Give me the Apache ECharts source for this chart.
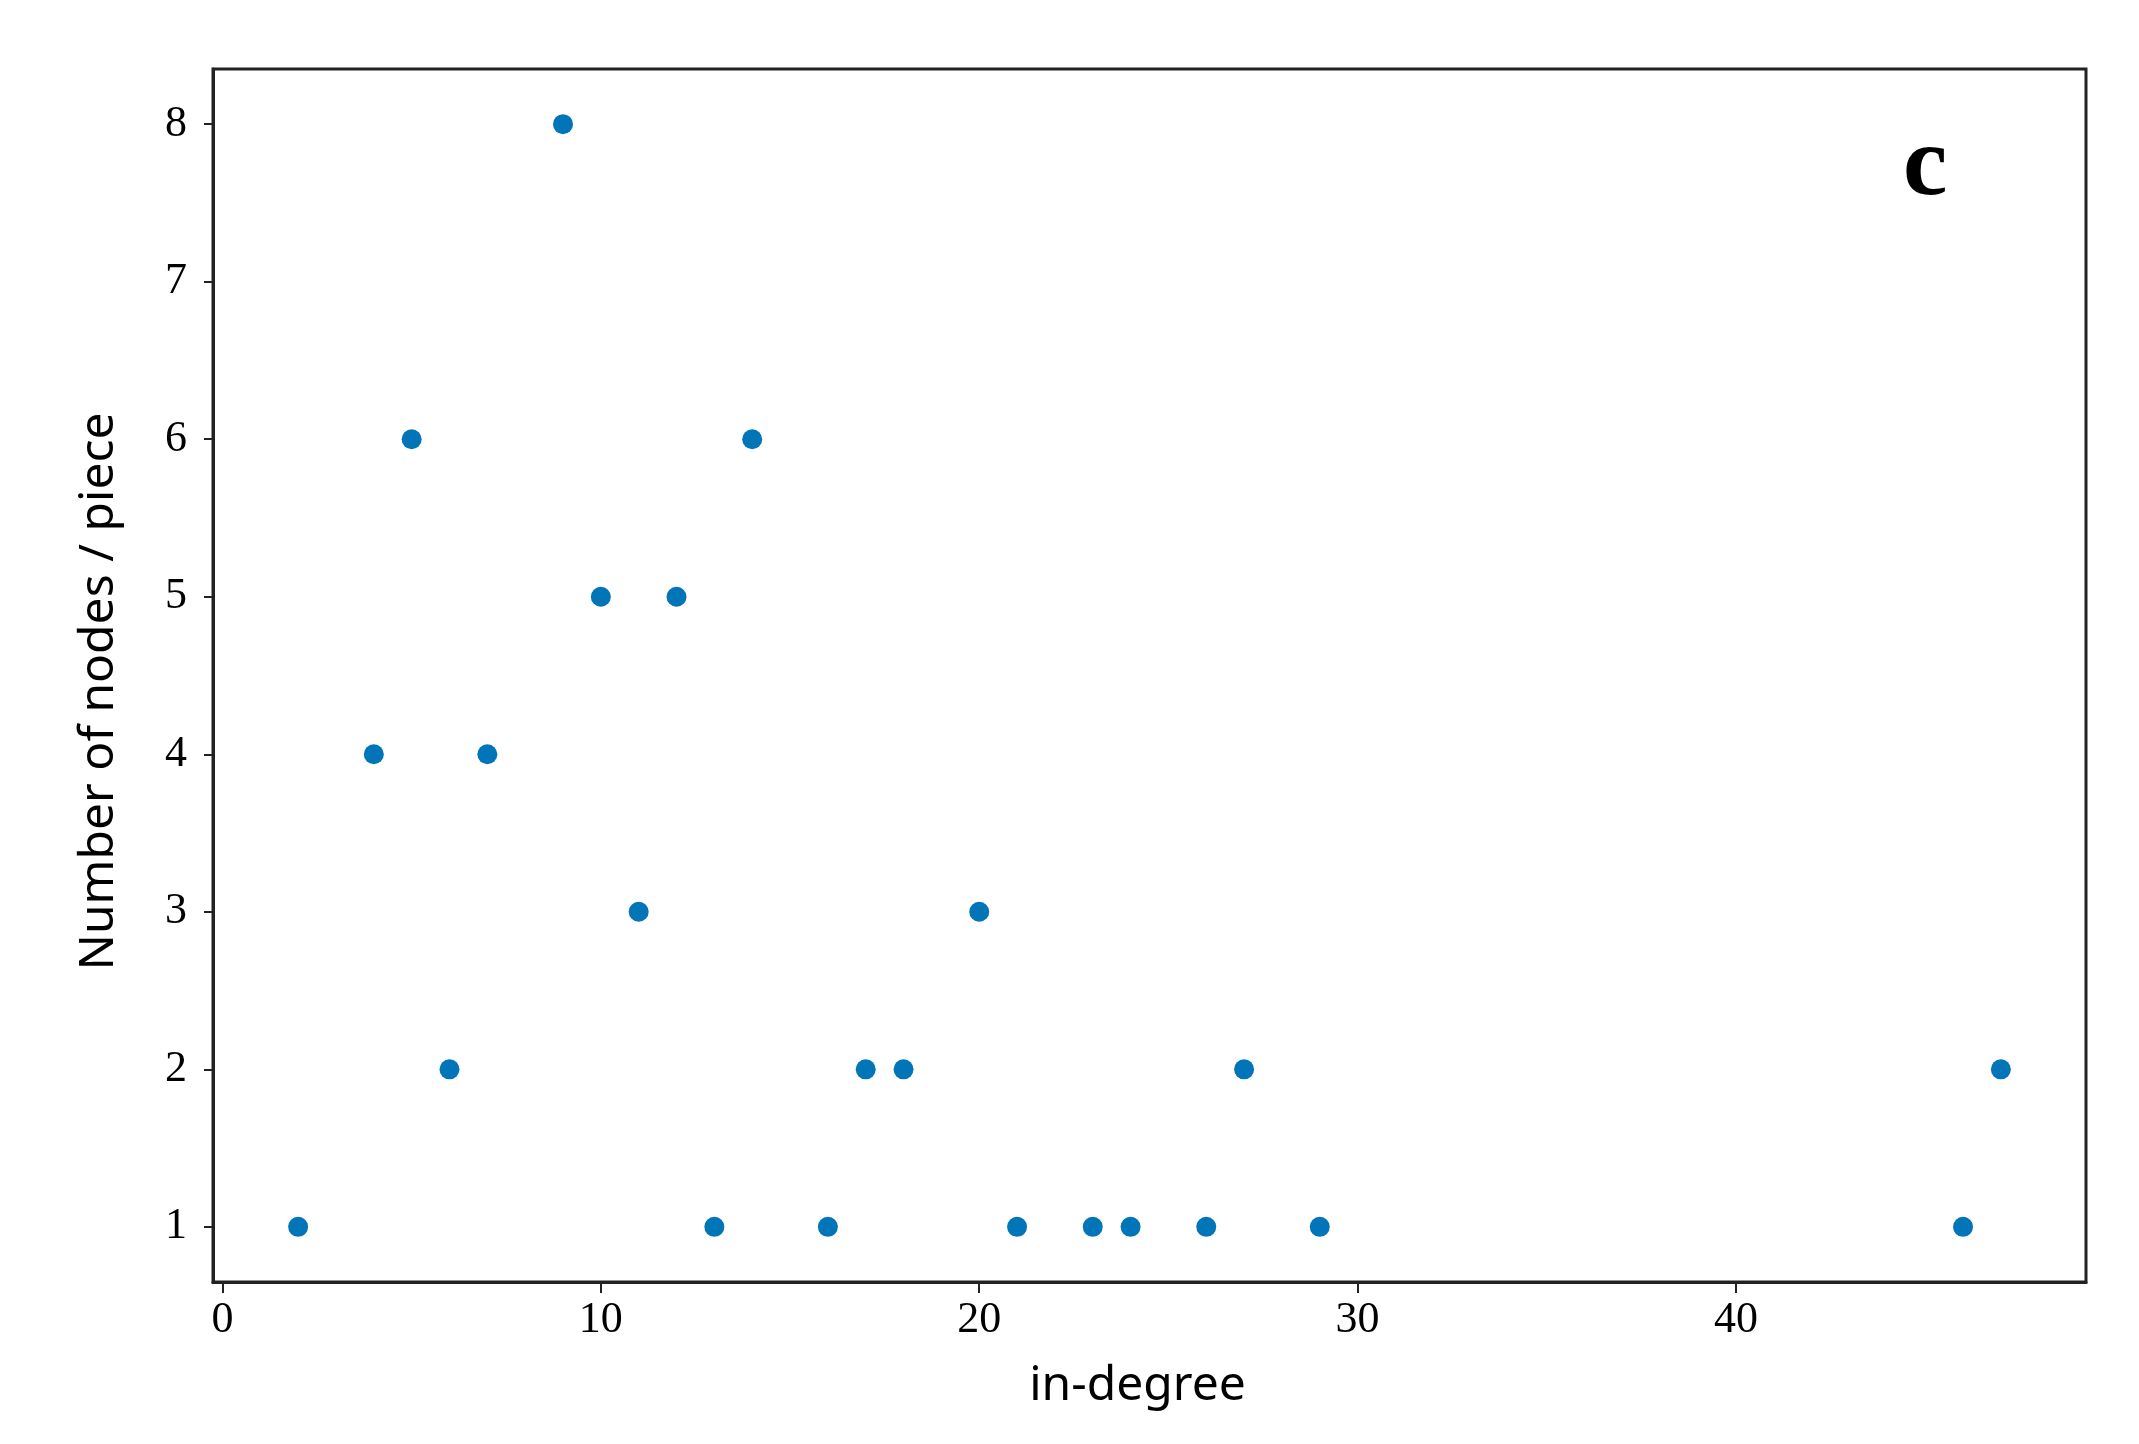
<!DOCTYPE html>
<html>
<head>
<meta charset="utf-8">
<script src="https://cdn.jsdelivr.net/npm/echarts@6/dist/echarts.min.js"></script>
<style>
  html, body { margin: 0; padding: 0; background: #fff; }
  #chart { width: 2139px; height: 1444px; }
</style>
</head>
<body>
<div id="chart"></div>
<script>
// in-degree values and how many nodes have each one
var inDegree = [2, 4, 5, 6, 7, 9, 10, 11, 12, 13, 14, 16, 17, 18, 20, 21, 23, 24, 26, 27, 29, 46, 47];
var nodeCount = [1, 4, 6, 2, 4, 8, 5, 3, 5, 1, 6, 1, 2, 2, 3, 1, 1, 1, 1, 2, 1, 1, 2];

var xTicks = [0, 10, 20, 30, 40];
var yTicks = [1, 2, 3, 4, 5, 6, 7, 8];

var chart = echarts.init(document.getElementById('chart'));

var tickFont = {
  fontFamily: 'Liberation Serif',
  fontSize: 44,
  color: '#000'
};

var option = {
  backgroundColor: '#fff',
  animation: false,
  grid: {
    left: 213,
    top: 69,
    width: 1873,
    height: 1213,
    show: true,
    borderColor: '#222',
    borderWidth: 3
  },
  xAxis: {
    type: 'value',
    min: -0.25,
    max: 49.25,
    name: 'in-degree',
    nameLocation: 'middle',
    nameGap: 80,
    nameTextStyle: { fontFamily: 'Noto Sans', fontSize: 48, color: '#000', padding: [0, 24, 0, 0] },
    axisLine: { show: true, onZero: false, lineStyle: { color: '#222', width: 3 } },
    axisTick: {
      show: true,
      length: 11,
      lineStyle: { color: '#222', width: 2 },
      customValues: xTicks
    },
    axisLabel: Object.assign({ margin: 16, customValues: xTicks }, tickFont),
    splitLine: { show: false }
  },
  yAxis: {
    type: 'value',
    min: 0.65,
    max: 8.35,
    name: 'Number of nodes / piece',
    nameLocation: 'middle',
    nameGap: 90,
    nameTextStyle: { fontFamily: 'Noto Sans', fontSize: 48, color: '#000', padding: [0, 32, 0, 0] },
    axisLine: { show: true, onZero: false, lineStyle: { color: '#222', width: 3 } },
    axisTick: {
      show: true,
      length: 9,
      lineStyle: { color: '#222', width: 2 },
      customValues: yTicks
    },
    axisLabel: Object.assign({ margin: 26, customValues: yTicks }, tickFont),
    splitLine: { show: false }
  },
  graphic: [{
    type: 'text',
    left: 1903,
    top: 118,
    style: {
      text: 'c',
      font: 'bold 100px "Liberation Serif"',
      fill: '#000'
    }
  }],
  series: [{
    type: 'scatter',
    symbol: 'circle',
    symbolSize: 20,
    itemStyle: { color: '#0274b8', opacity: 1 },
    data: inDegree.map(function (d, i) { return [d, nodeCount[i]]; })
  }]
};

chart.setOption(option);
</script>
</body>
</html>
